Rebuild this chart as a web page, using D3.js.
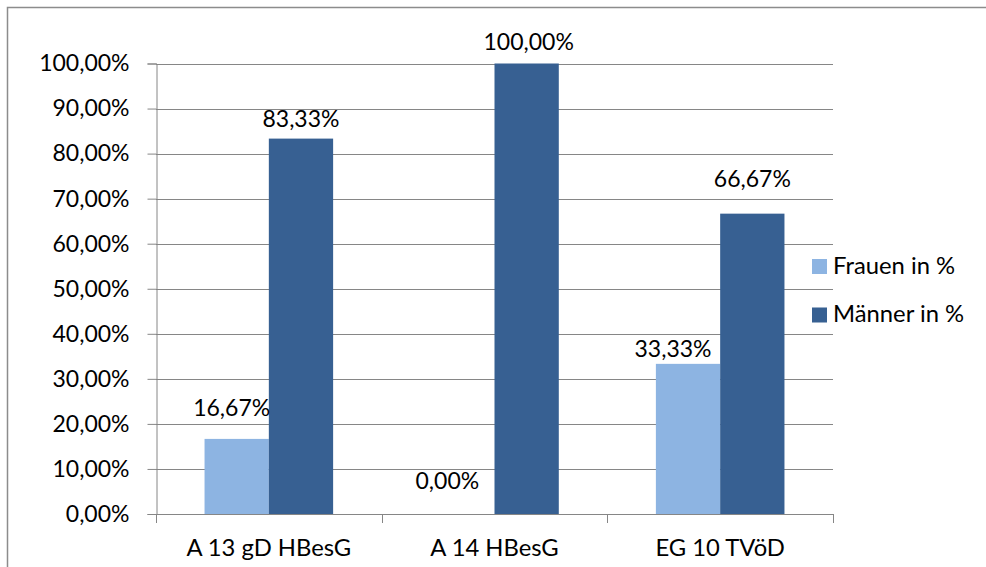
<!DOCTYPE html>
<html>
<head>
<meta charset="utf-8">
<script src="https://cdn.jsdelivr.net/npm/d3@7/dist/d3.min.js"></script>
<style>
  html, body { margin: 0; padding: 0; background: #fff; }
  svg { display: block; font-family: Lato, "Open Sans", sans-serif; }
</style>
</head>
<body>
<svg id="chart" width="986" height="567"></svg>
<script>
// Data
const categories = ["A 13 gD HBesG", "A 14 HBesG", "EG 10 TVöD"];
const seriesNames = ["Frauen in %", "Männer in %"];
const frauen = [0.1667, 0.0, 0.3333];
const maenner = [0.8333, 1.0, 0.6667];
const yTicks = [0, 0.1, 0.2, 0.3, 0.4, 0.5, 0.6, 0.7, 0.8, 0.9, 1.0];

// Presentation
const colors = ["#8DB4E2", "#376092"];
const numSize = 23;
const textSize = 23.8;
// label nudges (dx, dy) per series/category, in px
const labelNudge = [
  [[-5, -23], [-15, -25], [-15, -7]],
  [[0, -12], [2, -14], [0, -27]]
];

const svg = d3.select("#chart");
const plot = { left: 156, right: 833, top: 63.5, bottom: 514 };
const gridColor = "#868686";

// frame
svg.append("rect")
  .attr("x", 7.5).attr("y", 7.5)
  .attr("width", 1000).attr("height", 600)
  .attr("fill", "none").attr("stroke", "#8c8c8c").attr("stroke-width", 1.5);

const x0 = d3.scaleBand().domain(categories).range([plot.left, plot.right]).padding(0);
const x1 = d3.scaleBand().domain(seriesNames).range([0, x0.bandwidth()])
  .paddingInner(0).paddingOuter(0.755);
const y = d3.scaleLinear().domain([0, 1]).range([plot.bottom, plot.top]);

const fmtPct = v => d3.format(".2f")(v * 100).replace(".", ",") + "%";

// gridlines
svg.append("g").selectAll("line")
  .data(yTicks.filter(t => t > 0))
  .join("line")
  .attr("x1", plot.left).attr("x2", plot.right)
  .attr("y1", d => Math.round(y(d)) + 0.5).attr("y2", d => Math.round(y(d)) + 0.5)
  .attr("stroke", gridColor).attr("stroke-width", 1);

// y axis
const yAxis = svg.append("g")
  .attr("transform", `translate(${plot.left + 0.5},0)`)
  .call(d3.axisLeft(y).tickValues(yTicks).tickFormat(fmtPct).tickSize(9).tickPadding(18));
yAxis.select(".domain").attr("stroke", gridColor);
yAxis.selectAll(".tick line").attr("stroke", gridColor);
yAxis.selectAll(".tick text")
  .attr("font-size", numSize).attr("fill", "#000")
  .attr("font-family", "Lato, 'Open Sans', sans-serif");

// bars
const rows = categories.map((c, i) => ({ cat: c, i, vals: [frauen[i], maenner[i]] }));
const groups = svg.append("g").selectAll("g")
  .data(rows).join("g")
  .attr("transform", d => `translate(${x0(d.cat)},0)`);

groups.selectAll("rect")
  .data(d => d.vals.map((v, s) => ({ v, s, i: d.i })))
  .join("rect")
  .attr("x", d => x1(seriesNames[d.s]))
  .attr("width", x1.bandwidth())
  .attr("y", d => y(d.v))
  .attr("height", d => y(0) - y(d.v))
  .attr("fill", d => colors[d.s]);

// value labels
groups.selectAll("text.val")
  .data(d => d.vals.map((v, s) => ({ v, s, i: d.i })))
  .join("text")
  .attr("class", "val")
  .attr("x", d => x1(seriesNames[d.s]) + x1.bandwidth() / 2 + labelNudge[d.s][d.i][0])
  .attr("y", d => y(d.v) + labelNudge[d.s][d.i][1])
  .attr("text-anchor", "middle")
  .attr("font-size", numSize).attr("fill", "#000")
  .text(d => fmtPct(d.v));

// x axis
const xAxisG = svg.append("g");
xAxisG.append("line")
  .attr("x1", plot.left).attr("x2", plot.right + 0.5)
  .attr("y1", plot.bottom + 0.5).attr("y2", plot.bottom + 0.5)
  .attr("stroke", gridColor);
const bounds = categories.map(c => x0(c)).concat([plot.right]);
xAxisG.selectAll("line.tk")
  .data(bounds).join("line")
  .attr("class", "tk")
  .attr("x1", d => Math.round(d) + 0.5).attr("x2", d => Math.round(d) + 0.5)
  .attr("y1", plot.bottom).attr("y2", plot.bottom + 9)
  .attr("stroke", gridColor);
xAxisG.selectAll("text")
  .data(categories).join("text")
  .attr("x", d => x0(d) + x0.bandwidth() / 2)
  .attr("y", 556)
  .attr("text-anchor", "middle")
  .attr("font-size", textSize).attr("fill", "#000")
  .text(d => d);

// legend
const legend = svg.append("g").selectAll("g")
  .data(seriesNames).join("g")
  .attr("transform", (d, i) => `translate(812,${259 + i * 48.5})`);
legend.append("rect")
  .attr("width", 15).attr("height", 15)
  .attr("fill", (d, i) => colors[i]);
legend.append("text")
  .attr("x", 21).attr("y", 14.5)
  .attr("font-size", textSize).attr("fill", "#000")
  .text(d => d);
</script>
</body>
</html>
